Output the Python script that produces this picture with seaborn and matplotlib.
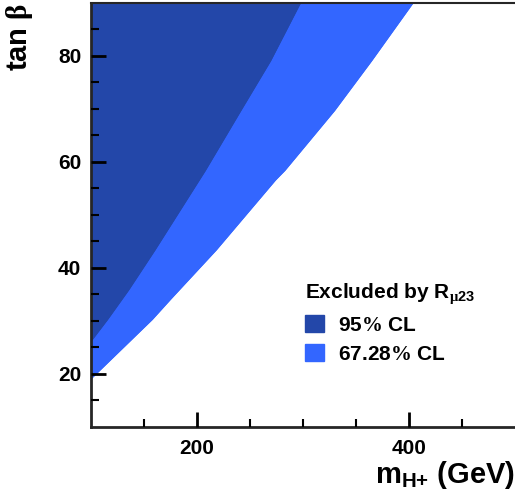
import matplotlib.pyplot as plt
import seaborn as sns
import numpy as np
import pandas as pd
from matplotlib.patches import Patch

# exclusion contours (m_H+ in GeV, tan beta)
m_95 = [100, 115.6, 135.6, 160.3, 207.8, 241.3, 269.4, 297.5]
tb_95 = [26.2, 30.3, 35.9, 43.4, 58.4, 69.7, 79.1, 90]
m_67 = [100, 157.8, 175, 218.1, 274, 282.8, 329.7, 364.7, 403.7]
tb_67 = [19.1, 30.3, 34.1, 43.4, 56.6, 58.4, 69.7, 79.1, 90]

labels = [r'95$\mathsf{\%}$ CL', r'67.28$\mathsf{\%}$ CL']
colors = ['#2347a9', '#3366ff']

sns.set_style('ticks')
plt.rcParams['font.family'] = ['Liberation Sans', 'DejaVu Sans']
plt.rcParams['font.weight'] = 'bold'
plt.rcParams['text.color'] = 'black'
plt.rcParams['axes.labelcolor'] = 'black'
plt.rcParams['xtick.color'] = 'black'
plt.rcParams['ytick.color'] = 'black'
plt.rcParams['mathtext.fontset'] = 'custom'
plt.rcParams['mathtext.rm'] = 'Liberation Sans:bold'
plt.rcParams['mathtext.it'] = 'Liberation Sans:bold'
plt.rcParams['mathtext.bf'] = 'Liberation Sans:bold'
plt.rcParams['mathtext.sf'] = 'Liberation Serif'

c95 = pd.DataFrame({'m': m_95, 'tb': tb_95})
c67 = pd.DataFrame({'m': m_67, 'tb': tb_67})

fig = plt.figure(figsize=(5.15, 5.03), dpi=100)
ax = fig.add_axes([0.1767, 0.1511, 0.8233, 0.843])
ax.set_axisbelow(False)

ymax = 90
#light band first, dark on top
ax.fill_between(c67['m'], c67['tb'], ymax, color=colors[1], lw=0)
sns.lineplot(data=c67, x='m', y='tb', color=colors[1], lw=0.8, ax=ax, sort=False)
ax.fill_between(c95['m'], c95['tb'], ymax, color=colors[0], lw=0)
sns.lineplot(data=c95, x='m', y='tb', color=colors[0], lw=0.8, ax=ax, sort=False)

ax.set_xlim(100, 500)
ax.set_ylim(10, 90)
ax.set_xticks([200, 400])
ax.set_xticks(np.arange(150, 500, 50), minor=True)
ax.set_yticks([20, 40, 60, 80])
ax.set_yticks(np.arange(15, 90, 5), minor=True)
ax.tick_params(which='major', direction='in', length=11, width=2, labelsize=15, pad=7)
ax.tick_params(which='minor', direction='in', length=6, width=1.5)
ax.tick_params(axis='x', which='major', pad=9)
for t in ax.get_xticklabels() + ax.get_yticklabels():
    t.set_fontweight('bold')

ax.spines['left'].set_linewidth(2)
ax.spines['bottom'].set_linewidth(2)
ax.spines['top'].set_linewidth(1.5)
ax.spines['right'].set_visible(False)

ax.set_xlabel(r'm$_{\mathrm{H{+}}}$ (GeV)', fontsize=21, fontweight='bold', loc='right')
ax.xaxis.set_label_coords(1.0, -0.075)
ax.set_ylabel(r'tan $\mathsf{\beta}$', fontsize=21, fontweight='bold', loc='top')
ax.yaxis.set_label_coords(-0.132, 1.0)

handles = [Patch(color=c) for c in colors]
leg = ax.legend(handles, labels,
                title=r'Excluded by R$_{\mathsf{\mu}\mathrm{23}}$',
                loc='upper left', bbox_to_anchor=(0.505, 0.345), frameon=False,
                fontsize=15, title_fontproperties={'size': 15, 'weight': 'bold'},
                handlelength=0.9, handleheight=0.9, handletextpad=0.7,
                borderpad=0, borderaxespad=0, labelspacing=0.45)
leg._legend_box.align = 'left'
for t in leg.get_texts():
    t.set_fontweight('bold')

fig.savefig('out.png', dpi=100)
